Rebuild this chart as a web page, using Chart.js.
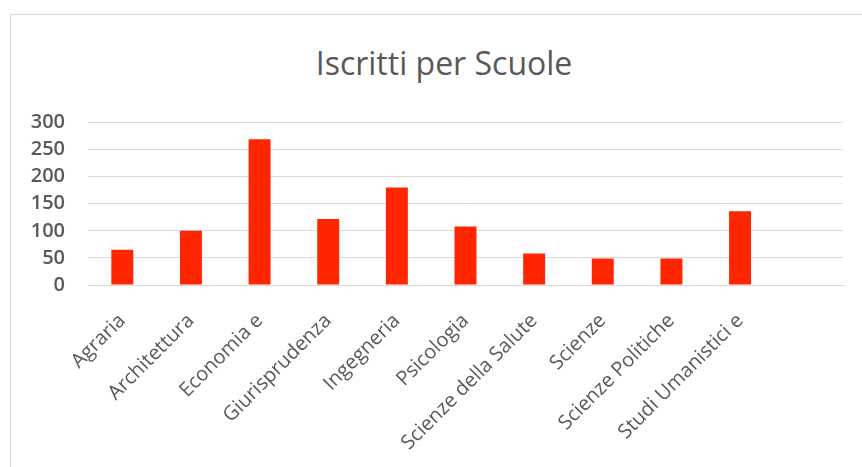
<!DOCTYPE html>
<html>
<head>
<meta charset="utf-8">
<script src="https://cdn.jsdelivr.net/npm/chart.js@4.4.0/dist/chart.umd.min.js"></script>
<style>
  html, body { margin: 0; padding: 0; background: #ffffff; width: 862px; height: 467px; overflow: hidden; }
  #frame { position: absolute; left: 10px; top: 14px; width: 900px; height: 500px; border: 1px solid #d9d9d9; box-sizing: border-box; }
  #title { position: absolute; left: 0; top: 47px; width: 888px; text-align: center; font-family: "Open Sans", sans-serif; font-size: 32px; line-height: 32px; color: #595959; }
  #wrap { position: absolute; left: 0; top: 0; width: 862px; height: 467px; }
</style>
</head>
<body>
<div id="frame"></div>
<div id="title">Iscritti per Scuole</div>
<div id="wrap"><canvas id="c" width="862" height="467"></canvas></div>
<script>
const categories = ['Agraria', 'Architettura', 'Economia e', 'Giurisprudenza', 'Ingegneria', 'Psicologia', 'Scienze della Salute', 'Scienze', 'Scienze Politiche', 'Studi Umanistici e', ''];
const iscritti = [65, 100, 269, 122, 180, 108, 58, 49, 49, 136, null];
const yTicks = [0, 50, 100, 150, 200, 250, 300];

new Chart(document.getElementById('c'), {
  type: 'bar',
  data: {
    labels: categories,
    datasets: [{
      label: 'Iscritti',
      data: iscritti,
      backgroundColor: '#ff2600',
      borderWidth: 0,
      barPercentage: 0.32,
      categoryPercentage: 1.0
    }]
  },
  options: {
    responsive: false,
    animation: false,
    layout: { padding: { left: 0, right: 19, top: 122.5, bottom: 2 } },
    plugins: {
      legend: { display: false },
      title: { display: false },
      tooltip: { enabled: false }
    },
    scales: {
      x: {
        grid: { display: false, drawTicks: false },
        border: { display: true, color: '#d9d9d9', width: 1 },
        ticks: {
          autoSkip: false,
          minRotation: 45,
          maxRotation: 45,
          padding: 24,
          color: '#595959',
          font: { family: 'Open Sans', size: 20 }
        },
        afterFit: (s) => { s.height = 180; }
      },
      y: {
        min: 0,
        max: 300,
        afterBuildTicks: (s) => { s.ticks = yTicks.map(v => ({ value: v })); },
        grid: { color: '#d9d9d9', lineWidth: 1, drawTicks: false },
        border: { display: false },
        ticks: {
          padding: 23,
          color: '#595959',
          font: { family: 'Open Sans', size: 20, weight: '600' }
        },
        afterFit: (s) => { s.width = 88; }
      }
    }
  }
});
</script>
</body>
</html>
